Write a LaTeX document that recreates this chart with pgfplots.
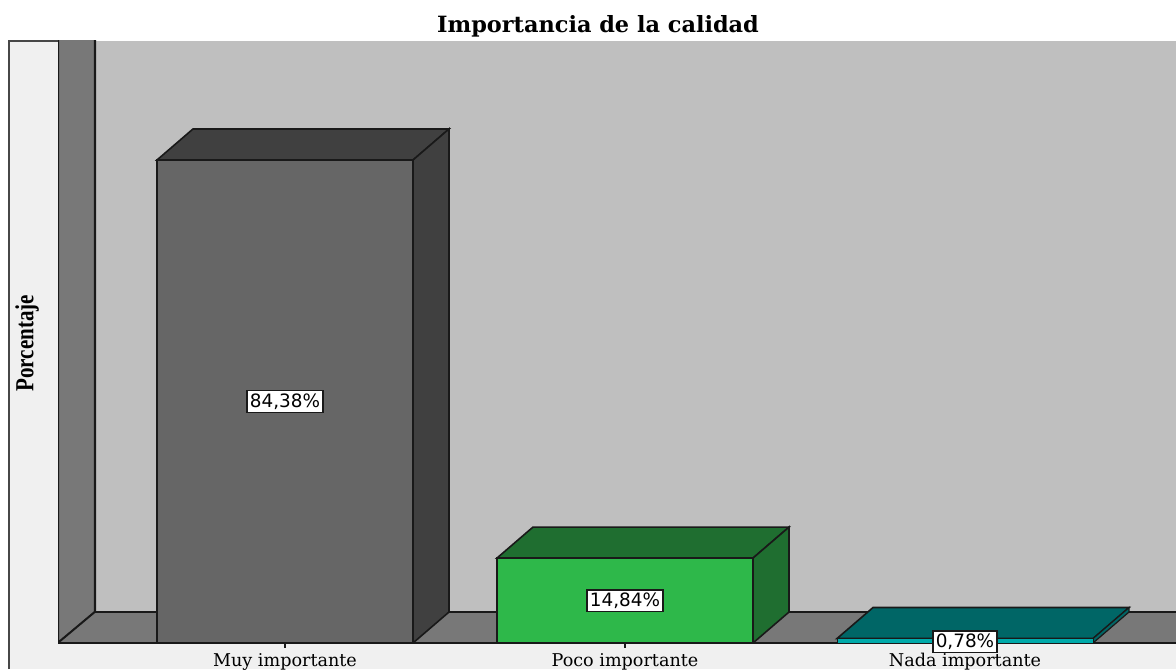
\documentclass[border=0pt]{standalone}
\usepackage{fontspec}
\setmainfont{DejaVu Serif}
\newfontfamily\labelfont{DejaVu Sans}
\newfontfamily\ylabfont{Liberation Serif}
\usepackage{pgfplots}
\pgfplotsset{compat=1.18}
\definecolor{panel}{RGB}{240,240,240}
\definecolor{backwall}{RGB}{191,191,191}
\definecolor{sidewall}{RGB}{120,120,120}
\definecolor{bargray}{RGB}{102,102,102}
\definecolor{bargrayd}{RGB}{64,64,64}
\definecolor{bargreen}{RGB}{46,184,74}
\definecolor{bargreend}{RGB}{31,110,48}
\definecolor{barteal}{RGB}{0,170,170}
\definecolor{bartealdk}{RGB}{0,102,102}
\definecolor{edge}{RGB}{25,25,25}

\begin{document}
\begin{tikzpicture}[x=1pt,y=1pt]
  \fill[white] (0,0) rectangle (588,334.5);
  \fill[panel] (4.5,0) rectangle (588,314);
  \draw[edge!80,line width=0.8pt] (4.5,0) -- (4.5,314) -- (29,314);
  \begin{scope}
  \clip (0,0) rectangle (588,334.5);
  \begin{axis}[
    at={(29pt,13pt)},
    anchor=south west,
    scale only axis,
    width=559pt,
    height=301pt,
    xmin=-0.6676, xmax=2.6206,
    ymin=0, ymax=105.17,
    axis x line=bottom,
    axis y line=left,
    x axis line style={draw=none,-},
    y axis line style={draw=none,-},
    ytick=\empty,
    xtick={0,1,2},
    xticklabels={Muy importante,Poco importante,Nada importante},
    tick style={draw=edge,line width=0.7pt},
    tickwidth=4.5pt,
    x tick label style={font=\fontsize{8.8}{9}\selectfont,yshift=0.5pt},
    title={Importancia de la calidad},
    title style={font=\bfseries\fontsize{11.2}{13}\selectfont,yshift=-6.5pt,
      at={(axis description cs:0.483,1.0266)},anchor=center},
    ylabel={\ylabfont\bfseries\scalebox{0.81}[1.0]{Porcentaje}},
    ylabel style={font=\fontsize{13}{15}\selectfont,
      at={(axis description cs:-0.0277,0.498)},anchor=center},
  ]
    % walls and floor
    \addplot[fill=backwall,draw=none] coordinates {(-0.5588,5.416) (2.6206,5.416) (2.6206,105.17) (-0.5588,105.17)} --cycle;
    \addplot[fill=sidewall,draw=edge,line width=1.2pt] coordinates {(-0.6676,0) (-0.5588,5.416) (-0.5588,106) (-0.6676,106)} --cycle;
    \addplot[fill=sidewall,draw=edge,line width=0.8pt] coordinates {(-0.6676,0) (-0.5588,5.416) (2.7,5.416) (2.7,0)} --cycle;

    % Muy importante
    \addplot[fill=bargrayd,draw=edge,line width=0.8pt] coordinates {(-0.3765,84.38) (-0.2706,89.80) (0.4824,89.80) (0.3765,84.38)} --cycle;
    \addplot[fill=bargrayd,draw=edge,line width=0.8pt] coordinates {(0.3765,84.38) (0.4824,89.80) (0.4824,5.416) (0.3765,0)} --cycle;
    \addplot[ybar,bar shift=0pt,bar width=128pt,fill=bargray,draw=edge,line width=0.8pt] coordinates {(0,84.38)};

    % Poco importante
    \addplot[fill=bargreend,draw=edge,line width=0.8pt] coordinates {(0.6235,14.84) (0.7294,20.256) (1.4824,20.256) (1.3765,14.84)} --cycle;
    \addplot[fill=bargreend,draw=edge,line width=0.8pt] coordinates {(1.3765,14.84) (1.4824,20.256) (1.4824,5.416) (1.3765,0)} --cycle;
    \addplot[ybar,bar shift=0pt,bar width=128pt,fill=bargreen,draw=edge,line width=0.8pt] coordinates {(1,14.84)};

    % Nada importante
    \addplot[fill=bartealdk,draw=edge,line width=0.8pt] coordinates {(1.6235,0.78) (1.7294,6.196) (2.4824,6.196) (2.3765,0.78)} --cycle;
    \addplot[fill=bartealdk,draw=edge,line width=0.6pt] coordinates {(2.3765,0.78) (2.4824,6.196) (2.4824,5.416) (2.3765,0)} --cycle;
    \addplot[ybar,bar shift=0pt,bar width=128pt,fill=barteal,draw=edge,line width=0.4pt] coordinates {(2,0.78)};

    % value labels
    \addplot[draw=none,mark=none,point meta=explicit symbolic,clip=false,
      nodes near coords,
      nodes near coords style={anchor=center,fill=white,draw=edge,line width=0.8pt,
        font=\labelfont\fontsize{9.2}{10}\selectfont,inner sep=1.5pt,
        text height=6.8pt,text depth=1pt}]
      coordinates {(0,42.19)[84,38\%] (1,7.42)[14,84\%] (2,0.2)[0,78\%]};
  \end{axis}
  \end{scope}
  \pgfresetboundingbox
  \path[use as bounding box] (0,0) rectangle (588,334.5);
\end{tikzpicture}
\end{document}
